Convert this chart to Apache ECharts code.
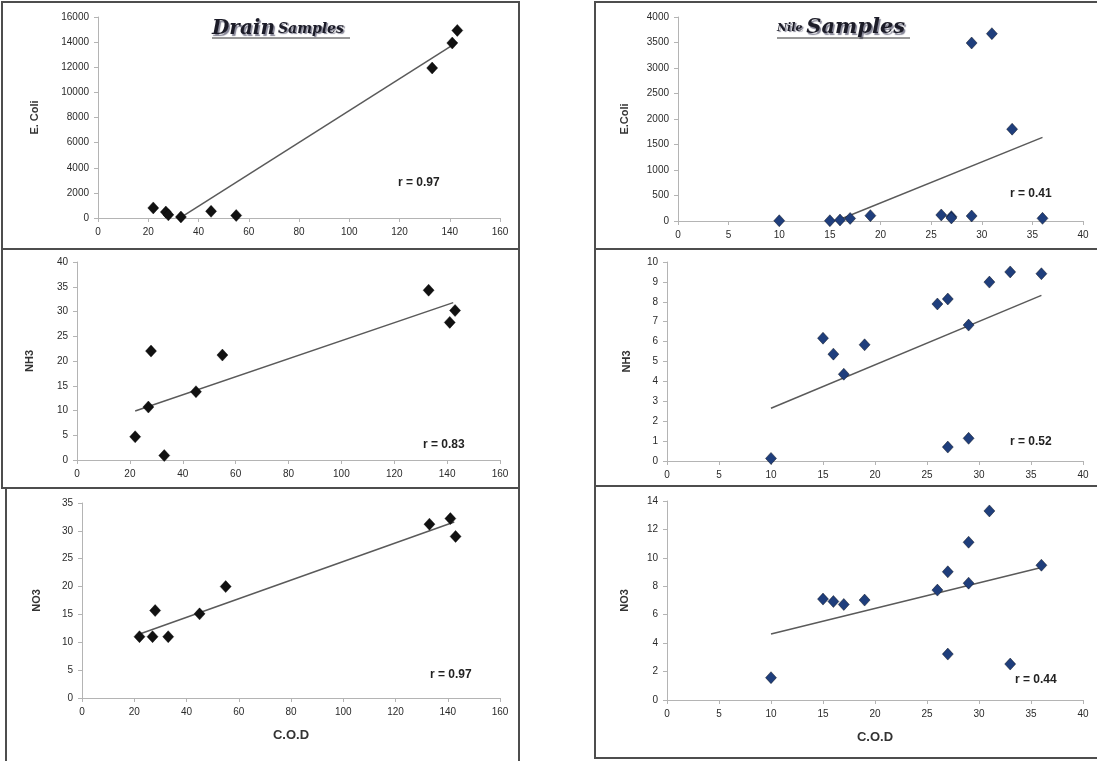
<!DOCTYPE html>
<html><head><meta charset="utf-8">
<script src="https://cdn.jsdelivr.net/npm/echarts@6/dist/echarts.min.js"></script>
<style>html,body{margin:0;padding:0;background:#fff}#c{width:1097px;height:761px}</style>
</head><body><div id="c"></div>
<script>
// ---- data ----
const drainCOD   = [22, 27, 28, 33, 45, 55, 133, 141, 143];
const drainEcoli = [800, 480, 250, 80, 530, 200, 11940, 13930, 14930];
const drainNH3   = [4.7, 10.7, 22.0, 0.9, 13.8, 21.2, 34.3, 27.8, 30.2];
const drainNO3   = [11.0, 11.0, 15.7, 11.0, 15.1, 20.0, 31.2, 32.2, 29.0];

const nileCOD   = [10, 15, 16, 17, 19, 26, 27, 27, 29, 29, 31, 33, 36];
const nileEcoli = [5, 5, 20, 50, 105, 118, 85, 60, 3490, 98, 3673, 1800, 52];
const nileNH3   = [0.13, 6.17, 5.37, 4.36, 5.84, 7.89, 8.14, 0.70, 6.83, 1.14, 8.99, 9.50, 9.41];
const nileNO3   = [1.57, 7.10, 6.93, 6.72, 7.03, 7.73, 9.02, 3.23, 11.1, 8.22, 13.3, 2.53, 9.48];

// trend line end points (x, y)
const drainEcoliTrend = [[33, 50], [143, 14000]];
const nileEcoliTrend  = [[15.6, 0], [36, 1640]];
const drainNH3Trend   = [[22, 9.9], [142.3, 31.8]];
const nileNH3Trend    = [[10, 2.65], [36, 8.32]];
const drainNO3Trend   = [[21, 11.3], [142.5, 31.6]];
const nileNO3Trend    = [[10, 4.64], [36, 9.32]];

const rLabels = ['r = 0.97', 'r = 0.41', 'r = 0.83', 'r = 0.52', 'r = 0.97', 'r = 0.44'];
const yNames  = ['E. Coli', 'E.Coli', 'NH3', 'NH3', 'NO3', 'NO3'];
const xName   = 'C.O.D';

// ---- layout ----
const panels = [
  {grid:{left:98, top:17, width:402, height:201}, x:drainCOD, y:drainEcoli, trend:drainEcoliTrend, xmax:160, xint:20, ymax:16000, yint:2000, color:'#111', nameGap:58, xname:false, r:[398,183]},
  {grid:{left:678, top:17, width:405, height:204}, x:nileCOD, y:nileEcoli, trend:nileEcoliTrend, xmax:40, xint:5, ymax:4000, yint:500, color:'#1f3e7c', nameGap:48, xname:false, r:[1010,194]},
  {grid:{left:77, top:262, width:423, height:198}, x:drainCOD, y:drainNH3, trend:drainNH3Trend, xmax:160, xint:20, ymax:40, yint:5, color:'#111', nameGap:42, xname:false, r:[423,445]},
  {grid:{left:667, top:262, width:416, height:199}, x:nileCOD, y:nileNH3, trend:nileNH3Trend, xmax:40, xint:5, ymax:10, yint:1, color:'#1f3e7c', nameGap:35, xname:false, r:[1010,442]},
  {grid:{left:82, top:503, width:418, height:195}, x:drainCOD, y:drainNO3, trend:drainNO3Trend, xmax:160, xint:20, ymax:35, yint:5, color:'#111', nameGap:40, xname:true, r:[430,675]},
  {grid:{left:667, top:501, width:416, height:199}, x:nileCOD, y:nileNO3, trend:nileNO3Trend, xmax:40, xint:5, ymax:14, yint:2, color:'#1f3e7c', nameGap:37, xname:true, r:[1015,680]}
];

const axisColor = '#b4b4b4';
const labelStyle = {fontFamily:'Liberation Sans', fontSize:10, color:'#2a2a2a', formatter: v => String(v)};
const grids = [], xAxes = [], yAxes = [], series = [];
panels.forEach((p, i) => {
  grids.push(Object.assign({}, p.grid));
  xAxes.push({
    gridIndex:i, type:'value', min:0, max:p.xmax, interval:p.xint,
    axisLine:{show:true, onZero:false, lineStyle:{color:axisColor, width:1}},
    axisTick:{show:true, length:4, lineStyle:{color:axisColor}},
    splitLine:{show:false},
    axisLabel:Object.assign({margin:9}, labelStyle),
    name: p.xname ? xName : '', nameLocation:'middle', nameGap:31,
    nameTextStyle:{fontFamily:'Liberation Sans', fontWeight:'bold', fontSize:13, color:'#333'}
  });
  yAxes.push({
    gridIndex:i, type:'value', min:0, max:p.ymax, interval:p.yint,
    axisLine:{show:true, lineStyle:{color:axisColor, width:1}},
    axisTick:{show:true, length:4, lineStyle:{color:axisColor}},
    splitLine:{show:false},
    axisLabel:Object.assign({margin:9}, labelStyle),
    name:yNames[i], nameLocation:'middle', nameGap:p.nameGap, nameRotate:90,
    nameTextStyle:{fontFamily:'Liberation Sans', fontWeight:'bold', fontSize:11, color:'#333'}
  });
  series.push({
    type:'line', xAxisIndex:i, yAxisIndex:i, data:p.trend, showSymbol:false, symbol:'none',
    lineStyle:{color:'#5a5a5a', width:1.5}, silent:true, z:2
  });
  series.push({
    type:'scatter', xAxisIndex:i, yAxisIndex:i, symbol:'diamond', symbolSize:[11,12],
    data:p.x.map((v, k) => [v, p.y[k]]),
    itemStyle:{color:p.color, borderColor:'#000', borderWidth:0.4, opacity:1}, z:3
  });
});

const graphics = [];
const boxes = [
  [2, 2, 517, 247], [2, 249, 517, 239], [6, 488, 513, 280],
  [595, 2, 505, 247], [595, 249, 505, 237], [595, 486, 505, 272]
];
boxes.forEach(b => graphics.push({type:'rect', shape:{x:b[0], y:b[1], width:b[2], height:b[3]},
  style:{fill:'none', stroke:'#4d4d4d', lineWidth:2}, silent:true, z:1}));

panels.forEach((p, i) => graphics.push({type:'text', x:p.r[0], y:p.r[1],
  style:{text:rLabels[i], font:'bold 12px "Liberation Sans"', fill:'#222', verticalAlign:'middle'}}));

const shadow = {textShadowColor:'rgba(110,110,130,0.85)', textShadowOffsetX:1.5, textShadowOffsetY:1.5, textShadowBlur:1};
graphics.push({type:'text', x:212, y:29, style:{
  text:'{a|Drain}{b|Samples}', verticalAlign:'middle', fill:'#1c1c28',
  rich:{
    a:Object.assign({fontFamily:'DejaVu Serif', fontStyle:'italic', fontWeight:'bold', fontSize:20, fill:'#1c1c28', padding:[0,3,0,0]}, shadow),
    b:Object.assign({fontFamily:'DejaVu Serif', fontStyle:'italic', fontWeight:'bold', fontSize:14, fill:'#1c1c28'}, shadow)
  }}});
graphics.push({type:'line', shape:{x1:212, y1:38, x2:350, y2:38}, style:{stroke:'#333', lineWidth:1}});
graphics.push({type:'text', x:777, y:28, style:{
  text:'{b|Nile }{a|Samples}', verticalAlign:'middle', fill:'#1c1c28',
  rich:{
    a:Object.assign({fontFamily:'DejaVu Serif', fontStyle:'italic', fontWeight:'bold', fontSize:21, fill:'#1c1c28'}, shadow),
    b:Object.assign({fontFamily:'DejaVu Serif', fontStyle:'italic', fontWeight:'bold', fontSize:11, fill:'#1c1c28'}, shadow)
  }}});
graphics.push({type:'line', shape:{x1:777, y1:38, x2:910, y2:38}, style:{stroke:'#333', lineWidth:1}});

const chart = echarts.init(document.getElementById('c'), null, {renderer:'canvas'});
chart.setOption({
  backgroundColor:'#fff', animation:false,
  grid:grids, xAxis:xAxes, yAxis:yAxes, series:series, graphic:graphics
});
</script></body></html>
